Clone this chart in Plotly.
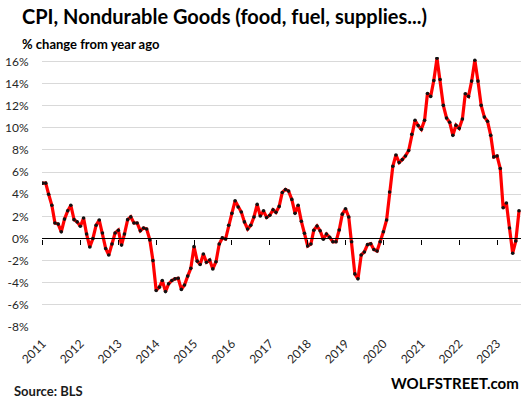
import plotly.graph_objects as go
import pandas as pd

start_month = "2011-01-01"
values = [
    5.0, 5.0, 4.0, 3.0, 1.4, 1.3, 0.6, 1.75, 2.5, 3.0, 1.7, 1.5,
    1.1, 1.85, 0.4, -0.77, 0.0, 1.2, 1.67, 0.5, -0.9, -1.5, -0.5, 0.5,
    0.75, -0.6, 0.4, 1.7, 1.95, 1.4, 1.4, 0.7, 0.95, 0.85, -0.13, -2.0,
    -4.7, -4.4, -3.8, -4.8, -4.1, -3.8, -3.65, -3.6, -4.6, -4.2, -3.4, -2.7,
    -0.74, -2.05, -2.35, -1.4, -2.15, -1.94, -2.75, -2.1, -0.5, 0.05, -0.05, 1.2,
    2.27, 3.4, 2.84, 2.39, 1.5, 0.86, 1.19, 1.94, 3.08, 2.03, 2.5, 1.9,
    2.1, 2.6, 2.36, 2.9, 4.16, 4.43, 4.28, 3.53, 2.27, 3.0, 1.55, 0.47,
    -0.68, -0.5, 0.74, 1.13, 0.7, -0.07, 0.4, 0.1, -0.3, -0.29, 0.77, 2.2,
    2.68, 1.94, -0.3, -3.2, -3.65, -1.49, -1.22, -0.56, -0.47, -1.0, -1.13, -0.3,
    0.61, 1.67, 4.2, 6.53, 7.55, 6.86, 7.13, 7.46, 7.95, 9.41, 10.68, 10.2,
    9.86, 10.68, 13.1, 12.84, 14.28, 16.29, 14.37, 12.03, 10.89, 10.5, 9.32, 10.23,
    9.95, 10.8, 13.08, 12.84, 14.22, 16.11, 14.22, 12.03, 10.97, 10.59, 9.32, 7.37,
    7.46, 6.32, 2.77, 3.2, 0.95, -1.33, -0.23, 2.5,
]
dates = pd.date_range(start_month, periods=len(values), freq="MS")
year_ticks = [f"{y}-01-01" for y in range(2011, 2024)]
year_labels = [str(y) for y in range(2011, 2024)]
y_ticks = list(range(-8, 17, 2))
y_labels = [f"{v}%" for v in y_ticks]

title = "CPI, Nondurable Goods (food, fuel, supplies...)"
subtitle = "% change from year ago"
source = "Source: BLS"
brand = "WOLFSTREET.com"

y_range = [-8, 16.4]
x_range = ["2010-12-27", "2023-08-20"]
FONT = "Lato"

fig = go.Figure()
fig.add_trace(go.Scatter(
    x=dates, y=values, mode="lines+markers",
    line=dict(color="#ff0000", width=3.2),
    marker=dict(color="#111111", size=3.6),
    showlegend=False, hoverinfo="skip",
))
# invisible trace on the overlay axis so it is drawn
fig.add_trace(go.Scatter(x=[dates[0]], y=[0], xaxis="x2", mode="markers",
                         marker=dict(opacity=0), showlegend=False, hoverinfo="skip"))

fig.update_layout(
    width=526, height=398,
    margin=dict(l=42, r=5, t=56.5, b=70.7),
    paper_bgcolor="white", plot_bgcolor="white",
    font=dict(family=FONT, color="#262626"),
    xaxis=dict(
        type="date", range=x_range, tickvals=year_ticks, ticktext=year_labels,
        tickangle=-45, showgrid=False, zeroline=False, showline=False,
        ticks="outside", ticklen=4, tickcolor="rgba(0,0,0,0)", automargin=False,
        tickfont=dict(size=12, family=FONT, color="#262626"),
    ),
    xaxis2=dict(
        type="date", range=x_range, tickvals=year_ticks, overlaying="x",
        anchor="free", position=(0 - y_range[0]) / (y_range[1] - y_range[0]),
        showline=True, linecolor="black", linewidth=1.3, automargin=False,
        ticks="outside", ticklen=5, tickcolor="black", tickwidth=1.3,
        showticklabels=False, showgrid=False, zeroline=False,
    ),
    yaxis=dict(
        range=y_range, tickvals=y_ticks, ticktext=y_labels,
        showgrid=True, gridcolor="#d9d9d9", gridwidth=1,
        zeroline=False, showline=False, automargin=False,
        ticks="outside", ticklen=10, tickcolor="rgba(0,0,0,0)",
        tickfont=dict(size=12, family=FONT, color="#262626"),
    ),
)

fig.add_annotation(text=f"<b>{title}</b>", xref="paper", yref="paper",
                   x=-0.045, y=1.0, xanchor="left", yanchor="bottom", yshift=27,
                   showarrow=False, font=dict(size=20, family=FONT, color="black"))
fig.add_annotation(text=f"<b>{subtitle}</b>", xref="paper", yref="paper",
                   x=-0.045, y=1.0, xanchor="left", yanchor="bottom", yshift=3,
                   showarrow=False, font=dict(size=13, family=FONT, color="black"))
fig.add_annotation(text=f"<b>{source}</b>", xref="paper", yref="paper",
                   x=-0.062, y=0, xanchor="left", yanchor="top", yshift=-54,
                   showarrow=False, font=dict(size=13, family=FONT, color="#1a1a1a"))
fig.add_annotation(text=f"<b>{brand}</b>", xref="paper", yref="paper",
                   x=1.0, y=0, xanchor="right", yanchor="top", yshift=-45,
                   showarrow=False, font=dict(size=15, family=FONT, color="black"))

fig.write_html("out.html", config={"displayModeBar": False},
               post_script="document.body.style.margin='0';")
